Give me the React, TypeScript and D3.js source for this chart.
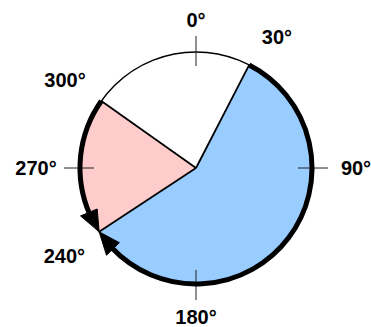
import React from "react";
import * as d3 from "d3";

// Sectors (compass degrees, clockwise from 12 o'clock)
const sectorNames = ["rest", "major", "minor"];
const sectorStartDeg = [-54.7, 27.3, 236.6];
const sectorEndDeg = [27.3, 236.6, 305.3];
const sectorColors = ["#ffffff", "#99ccff", "#ffcccc"];

// Thick arrowed arcs along the rim
const arrowFromDeg = [27.3, 305.3];
const arrowToDeg = [236.6, 236.6];

// Ticks and labels
const tickDeg = [0, 90, 180, 270];
const labelText = ["0°", "30°", "90°", "180°", "240°", "270°", "300°"];
const labelDeg = [0, 31.6, 90, 180, 236.4, 270, 304];

const W = 371;
const H = 327;
const CX = 196;
const CY = 168;
const R = 116;

export default function App() {
  const ang = d3.scaleLinear().domain([0, 360]).range([0, 2 * Math.PI]);
  const pt = (deg: number, r: number): [number, number] => [
    r * Math.sin(ang(deg)),
    -r * Math.cos(ang(deg)),
  ];

  const arcGen = d3.arc<any>().innerRadius(0).outerRadius(R);

  const arrowLen = 22;
  const arrowHalf = 9;
  const arrows = arrowFromDeg.map((from, i) => {
    const to = arrowToDeg[i];
    const dir = to > from ? 1 : -1;
    const lenDeg = (arrowLen / R) * (180 / Math.PI);
    const baseDeg = to - dir * lenDeg;
    const p = d3.path();
    const [x0, y0] = pt(from, R);
    p.moveTo(x0, y0);
    p.arc(0, 0, R, ang(from) - Math.PI / 2, ang(baseDeg + dir * 1) - Math.PI / 2, dir < 0);
    const tip = pt(to, R);
    const b1 = pt(baseDeg, R + arrowHalf);
    const b2 = pt(baseDeg, R - arrowHalf);
    const head = d3.path();
    head.moveTo(tip[0], tip[1]);
    head.lineTo(b1[0], b1[1]);
    head.lineTo(b2[0], b2[1]);
    head.closePath();
    return { arc: p.toString(), head: head.toString() };
  });

  return (
    <svg
      width={W}
      height={H}
      style={{ position: "fixed", left: 0, top: 0, display: "block", background: "#fff" }}
    >
      <g transform={`translate(${CX},${CY})`}>
        {sectorNames.map((n, i) => (
          <path
            key={n}
            d={arcGen({ startAngle: ang(sectorStartDeg[i]), endAngle: ang(sectorEndDeg[i]) }) || ""}
            fill={sectorColors[i]}
            stroke="none"
          />
        ))}
        {sectorStartDeg.map((d, i) => {
          const [x, y] = pt(d, R);
          return <line key={"b" + i} x1={0} y1={0} x2={x} y2={y} stroke="#000" strokeWidth={1.8} />;
        })}
        <circle r={R} fill="none" stroke="#000" strokeWidth={1.5} />
        {tickDeg.map((d) => {
          const [x1, y1] = pt(d, R - 14);
          const [x2, y2] = pt(d, R + 16);
          return <line key={"t" + d} x1={x1} y1={y1} x2={x2} y2={y2} stroke="#222" strokeWidth={1} />;
        })}
        {arrows.map((a, i) => (
          <g key={"a" + i}>
            <path d={a.arc} fill="none" stroke="#000" strokeWidth={5} />
            <path d={a.head} fill="#000" stroke="#000" strokeWidth={1} strokeLinejoin="miter" />
          </g>
        ))}
        {labelText.map((t, i) => {
          const d = labelDeg[i];
          const r = 148.5 + 11.5 * Math.abs(Math.sin(ang(d)));
          const [x, y] = pt(d, r);
          return (
            <text
              key={t}
              x={x}
              y={y}
              dy="0.36em"
              textAnchor="middle"
              fontFamily="'Liberation Sans', Arial, Helvetica, sans-serif"
              fontSize={20}
              fontWeight="bold"
              fill="#000"
            >
              {t}
            </text>
          );
        })}
      </g>
    </svg>
  );
}
